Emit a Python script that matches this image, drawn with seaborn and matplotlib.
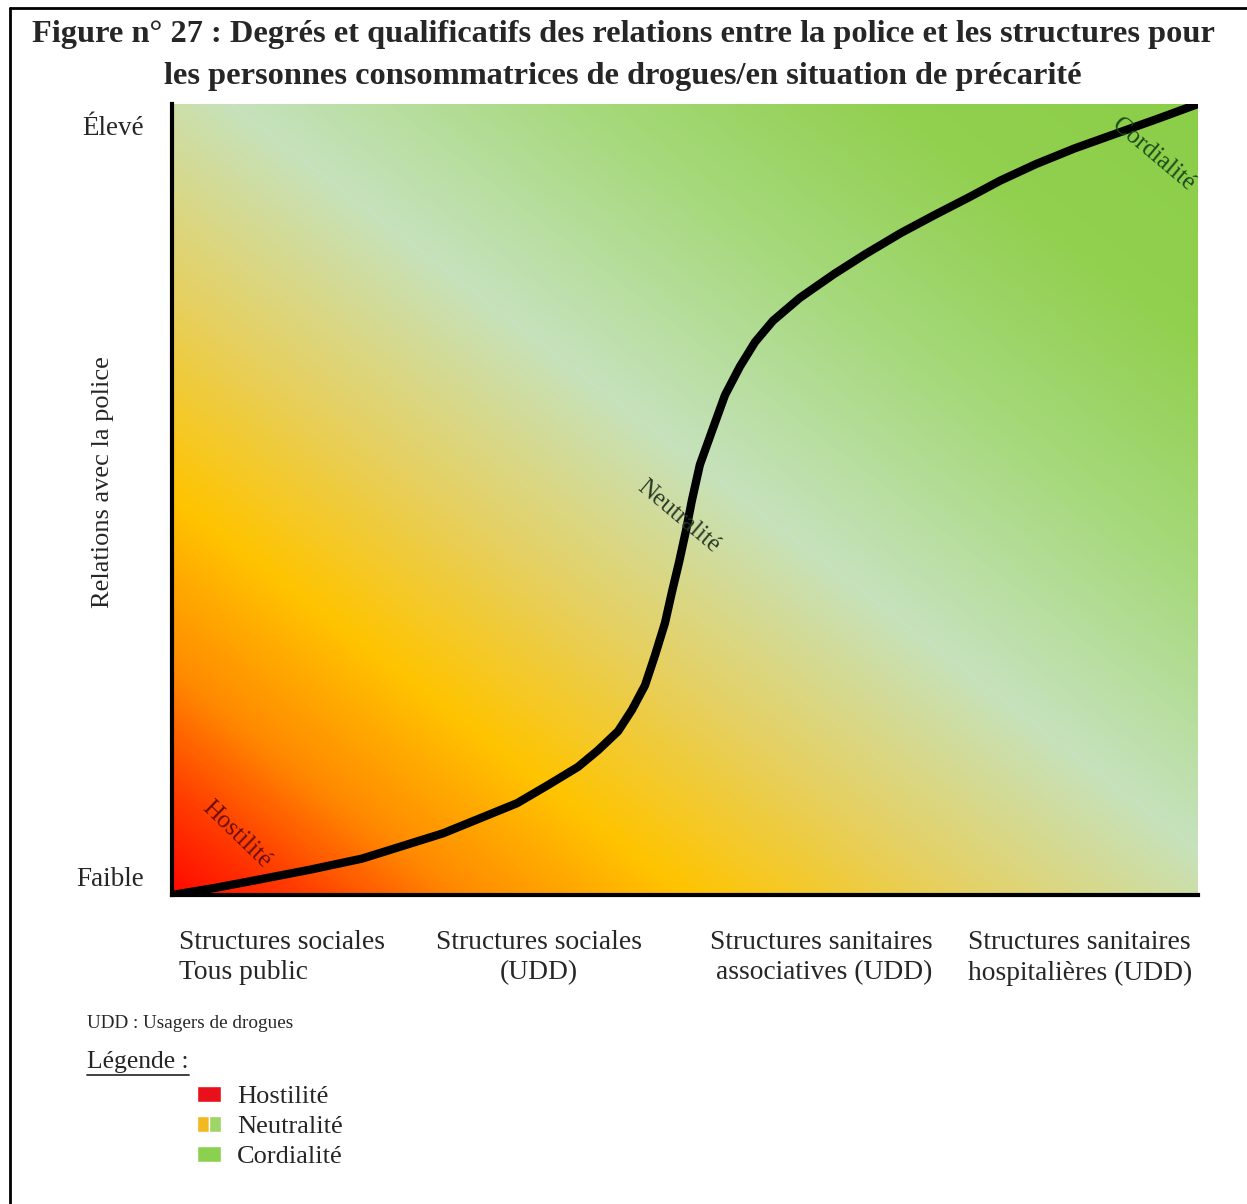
import numpy as np
import matplotlib
matplotlib.use('Agg')
import matplotlib.pyplot as plt
from matplotlib.colors import LinearSegmentedColormap
from matplotlib.patches import Patch
from matplotlib.legend_handler import HandlerTuple
from matplotlib.lines import Line2D
import seaborn as sns

sns.set_style('white')
plt.rcParams['font.family'] = ['Liberation Serif', 'DejaVu Serif']

# ---------- donnees ----------
categories = ["Structures sociales\nTous public",
              "Structures sociales\n(UDD)",
              "Structures sanitaires\nassociatives (UDD)",
              "Structures sanitaires\nhospitalières (UDD)"]
y_levels = ["Faible", "Élevé"]
curve_x = [0.0, 0.168, 0.347, 0.538, 0.741, 1.057, 1.201, 1.345, 1.466, 1.583,
           1.661, 1.739, 1.793, 1.844, 1.883, 1.922, 1.949, 1.977, 2.004, 2.027,
           2.058, 2.109, 2.156, 2.214, 2.273, 2.343, 2.448, 2.581, 2.702, 2.842,
           2.975, 3.107, 3.228, 3.368, 3.520, 3.684, 3.840, 4.0]
curve_y = [0.0, 0.009, 0.020, 0.032, 0.046, 0.078, 0.097, 0.116, 0.139, 0.162,
           0.183, 0.207, 0.234, 0.265, 0.303, 0.344, 0.383, 0.421, 0.461, 0.499,
           0.544, 0.590, 0.632, 0.668, 0.699, 0.726, 0.755, 0.785, 0.810, 0.837,
           0.860, 0.882, 0.903, 0.924, 0.944, 0.963, 0.981, 1.0]
zone_names = ["Hostilité", "Neutralité", "Cordialité"]
zone_x = [0.25, 1.973, 3.825]
zone_y = [0.076, 0.478, 0.936]

# ---------- figure ----------
fig = plt.figure(figsize=(12.47, 12.04), dpi=100)
ax = fig.add_axes([172/1247, 1 - 895/1204, 1026/1247, 791/1204])

# fond en degrade diagonal
cmap = LinearSegmentedColormap.from_list('relations', [
    (0.00, '#ff0a00'), (0.06, '#ff3a00'), (0.14, '#ff8a00'),
    (0.25, '#ffc400'), (0.38, '#e6d060'), (0.53, '#c6e2bc'),
    (0.70, '#a6d97c'), (0.85, '#92d050'), (1.00, '#8bce48')])
gu, gv = np.meshgrid(np.linspace(0, 1, 400), np.linspace(0, 1, 400))
ax.imshow((gu + gv) / 2, cmap=cmap, origin='lower', extent=[0, 4, 0, 1],
          aspect='auto', interpolation='bilinear', zorder=0)

sns.lineplot(x=curve_x, y=curve_y, sort=False, color='black', lw=6,
             ax=ax, zorder=3, solid_capstyle='round', solid_joinstyle='round')

label_cols = ['#6e0d0d', '#2a3a2a', '#1c4a1c']
label_rot = [-44, -40, -40]
for name, x, y, c, r in zip(zone_names, zone_x, zone_y, label_cols, label_rot):
    ax.text(x, y, name, color=c, fontsize=18, rotation=r, rotation_mode='anchor',
            ha='center', va='center', zorder=4)

ax.set_xlim(0, 4)
ax.set_ylim(0, 1)
for s in ['top', 'right']:
    ax.spines[s].set_visible(False)
for s in ['left', 'bottom']:
    ax.spines[s].set_linewidth(3)
    ax.spines[s].set_color('black')

ax.set_xticks([0.43, 1.43, 2.53, 3.54])
ax.set_xticklabels(categories, fontsize=19.8, linespacing=1.3)
for lab, ma in zip(ax.get_xticklabels(), ['left', 'center', 'right', 'left']):
    lab.set_multialignment(ma)
ax.tick_params(axis='x', length=0, pad=25)

ax.set_yticks([0.024, 0.973])
ax.set_yticklabels(y_levels, fontsize=19.5)
ax.tick_params(axis='y', length=0, pad=20)

ax.set_ylabel("Relations avec la police", fontsize=19)
ax.yaxis.set_label_coords(-0.057, 0.522)

# titre
fig.text(623/1247, 1 - 55.5/1204,
         "Figure n° 27 : Degrés et qualificatifs des relations entre la police et les structures pour\n"
         "les personnes consommatrices de drogues/en situation de précarité",
         ha='center', va='center', fontsize=23.3, fontweight='bold', linespacing=1.6)

# notes et legende
fig.text(87/1247, 1 - 1024/1204, "UDD : Usagers de drogues", fontsize=13.8, va='center')
fig.text(87/1247, 1 - 1062/1204, "Légende :", fontsize=18.4, va='center')
fig.add_artist(Line2D([87/1247, 189/1247], [1 - 1075/1204, 1 - 1075/1204],
                      color='#333333', lw=1.3))

handles = [Patch(facecolor='#e8101a'),
           (Patch(facecolor='#f2b820'), Patch(facecolor='#9fd466')),
           Patch(facecolor='#8cd050')]
fig.legend(handles, zone_names, loc='upper left',
           bbox_to_anchor=(184/1247, 1 - 1073/1204), frameon=False,
           fontsize=19, borderpad=0, labelspacing=0.29, handlelength=0.9,
           handleheight=0.55, handletextpad=0.6,
           handler_map={tuple: HandlerTuple(ndivide=None, pad=0)})

# cadre de la figure (haut et gauche)
fig.add_artist(Line2D([10/1247, 1], [1 - 8/1204, 1 - 8/1204], color='black', lw=2))
fig.add_artist(Line2D([10/1247, 10/1247], [0, 1 - 8/1204], color='black', lw=2))

plt.savefig('out.png', dpi=100)
plt.close()
